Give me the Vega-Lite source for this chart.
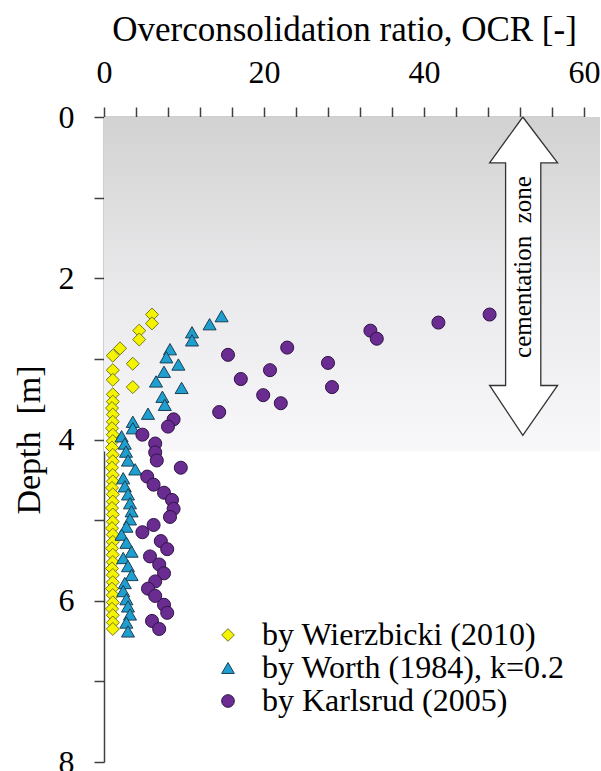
{
  "$schema": "https://vega.github.io/schema/vega-lite/v6.json",
  "width": 480,
  "height": 645,
  "autosize": {"type": "none"},
  "padding": {"left": 104, "top": 117, "right": 17, "bottom": 9},
  "background": "white",
  "config": {
    "view": {"stroke": null},
    "font": "Liberation Serif",
    "text": {"font": "Liberation Serif"}
  },
  "encoding": {
    "x": {
      "field": "ocr", "type": "quantitative",
      "scale": {"domain": [0, 60], "nice": false, "zero": false},
      "axis": {
        "orient": "top", "title": "Overconsolidation ratio, OCR [-]",
        "values": [0, 4, 8, 12, 16, 20, 24, 28, 32, 36, 40, 44, 48, 52, 56, 60],
        "labelExpr": "datum.value % 20 === 0 ? datum.label : ''",
        "grid": false, "domainColor": "#404040", "domainWidth": 1.5,
        "tickColor": "#404040", "tickWidth": 1.5, "tickSize": 10,
        "labelFont": "Liberation Serif", "labelFontSize": 32, "labelFontWeight": "normal", "labelColor": "#000",
        "labelPadding": 18, "labelFlush": false, "labelOverlap": false,
        "titleFont": "Liberation Serif", "titleFontSize": 35, "titleFontWeight": "normal",
        "titleColor": "#000", "titlePadding": 9
      }
    },
    "y": {
      "field": "depth", "type": "quantitative",
      "scale": {"domain": [0, 8], "reverse": true, "nice": false, "zero": false},
      "axis": {
        "title": "Depth\u00a0 [m]",
        "values": [0, 1, 2, 3, 4, 5, 6, 7, 8],
        "labelExpr": "datum.value % 2 === 0 ? datum.label : ''",
        "grid": false, "domainColor": "#404040", "domainWidth": 1.5,
        "tickColor": "#404040", "tickWidth": 1.5, "tickSize": 10,
        "labelFont": "Liberation Serif", "labelFontSize": 32, "labelFontWeight": "normal", "labelColor": "#000",
        "labelPadding": 20, "labelFlush": false, "labelOverlap": false,
        "titleFont": "Liberation Serif", "titleFontSize": 34, "titleFontWeight": "normal",
        "titleColor": "#000", "titlePadding": 12
      }
    }
  },
  "layer": [
    {
      "data": {"values": [{"ocr": 0, "ocr2": 62, "depth": 0, "depth2": 4.15}]},
      "mark": {
        "type": "rect",
        "fill": {"gradient": "linear", "x1": 0, "y1": 0, "x2": 0, "y2": 1,
          "stops": [{"offset": 0, "color": "#d2d2d2"}, {"offset": 0.5, "color": "#e9e9eb"}, {"offset": 1, "color": "#f8f8fa"}]}
      },
      "encoding": {"x2": {"field": "ocr2"}, "y2": {"field": "depth2"}}
    },
    {
      "data": {"values": [
        {"i": 1, "ocr": 52.35, "depth": 0.0},
        {"i": 2, "ocr": 56.7, "depth": 0.57},
        {"i": 3, "ocr": 54.6, "depth": 0.57},
        {"i": 4, "ocr": 54.6, "depth": 3.33},
        {"i": 5, "ocr": 56.7, "depth": 3.33},
        {"i": 6, "ocr": 52.35, "depth": 3.95},
        {"i": 7, "ocr": 48.2, "depth": 3.33},
        {"i": 8, "ocr": 50.2, "depth": 3.33},
        {"i": 9, "ocr": 50.2, "depth": 0.57},
        {"i": 10, "ocr": 48.2, "depth": 0.57},
        {"i": 11, "ocr": 52.35, "depth": 0.0}
      ]},
      "mark": {"type": "line", "fill": "white", "stroke": "#333333", "strokeWidth": 1.3, "strokeJoin": "miter"},
      "encoding": {"order": {"field": "i", "type": "quantitative"}}
    },
    {
      "data": {"values": [{"ocr": 52.4, "depth": 1.86, "label": "cementation\u00a0 zone"}]},
      "mark": {"type": "text", "angle": 270, "fontSize": 25, "font": "Liberation Serif", "fontWeight": "normal", "color": "#000", "align": "center", "baseline": "middle"},
      "encoding": {"text": {"field": "label"}}
    },
    {
      "data": {"values": [
        {"series": "by Wierzbicki (2010)", "ocr": 6.0, "depth": 2.45},
        {"series": "by Wierzbicki (2010)", "ocr": 6.0, "depth": 2.56},
        {"series": "by Wierzbicki (2010)", "ocr": 4.4, "depth": 2.65},
        {"series": "by Wierzbicki (2010)", "ocr": 4.4, "depth": 2.76},
        {"series": "by Wierzbicki (2010)", "ocr": 2.0, "depth": 2.87},
        {"series": "by Wierzbicki (2010)", "ocr": 1.1, "depth": 2.96},
        {"series": "by Wierzbicki (2010)", "ocr": 3.6, "depth": 3.06},
        {"series": "by Wierzbicki (2010)", "ocr": 1.1, "depth": 3.14},
        {"series": "by Wierzbicki (2010)", "ocr": 1.1, "depth": 3.26},
        {"series": "by Wierzbicki (2010)", "ocr": 3.6, "depth": 3.35},
        {"series": "by Wierzbicki (2010)", "ocr": 1.1, "depth": 3.44},
        {"series": "by Wierzbicki (2010)", "ocr": 1.1, "depth": 3.53},
        {"series": "by Wierzbicki (2010)", "ocr": 1.0, "depth": 3.61},
        {"series": "by Wierzbicki (2010)", "ocr": 1.1, "depth": 3.69},
        {"series": "by Wierzbicki (2010)", "ocr": 1.1, "depth": 3.78},
        {"series": "by Wierzbicki (2010)", "ocr": 1.0, "depth": 3.86},
        {"series": "by Wierzbicki (2010)", "ocr": 1.1, "depth": 3.94},
        {"series": "by Wierzbicki (2010)", "ocr": 1.1, "depth": 4.02},
        {"series": "by Wierzbicki (2010)", "ocr": 1.0, "depth": 4.10},
        {"series": "by Wierzbicki (2010)", "ocr": 1.1, "depth": 4.19},
        {"series": "by Wierzbicki (2010)", "ocr": 1.1, "depth": 4.27},
        {"series": "by Wierzbicki (2010)", "ocr": 1.0, "depth": 4.35},
        {"series": "by Wierzbicki (2010)", "ocr": 1.1, "depth": 4.44},
        {"series": "by Wierzbicki (2010)", "ocr": 1.1, "depth": 4.52},
        {"series": "by Wierzbicki (2010)", "ocr": 1.0, "depth": 4.60},
        {"series": "by Wierzbicki (2010)", "ocr": 1.1, "depth": 4.68},
        {"series": "by Wierzbicki (2010)", "ocr": 1.1, "depth": 4.77},
        {"series": "by Wierzbicki (2010)", "ocr": 1.0, "depth": 4.85},
        {"series": "by Wierzbicki (2010)", "ocr": 1.1, "depth": 4.93},
        {"series": "by Wierzbicki (2010)", "ocr": 1.1, "depth": 5.02},
        {"series": "by Wierzbicki (2010)", "ocr": 1.0, "depth": 5.10},
        {"series": "by Wierzbicki (2010)", "ocr": 1.1, "depth": 5.18},
        {"series": "by Wierzbicki (2010)", "ocr": 1.1, "depth": 5.27},
        {"series": "by Wierzbicki (2010)", "ocr": 1.0, "depth": 5.35},
        {"series": "by Wierzbicki (2010)", "ocr": 1.1, "depth": 5.43},
        {"series": "by Wierzbicki (2010)", "ocr": 1.1, "depth": 5.52},
        {"series": "by Wierzbicki (2010)", "ocr": 1.0, "depth": 5.60},
        {"series": "by Wierzbicki (2010)", "ocr": 1.1, "depth": 5.68},
        {"series": "by Wierzbicki (2010)", "ocr": 1.1, "depth": 5.77},
        {"series": "by Wierzbicki (2010)", "ocr": 1.0, "depth": 5.85},
        {"series": "by Wierzbicki (2010)", "ocr": 1.1, "depth": 5.93},
        {"series": "by Wierzbicki (2010)", "ocr": 1.1, "depth": 6.02},
        {"series": "by Wierzbicki (2010)", "ocr": 1.0, "depth": 6.10},
        {"series": "by Wierzbicki (2010)", "ocr": 1.1, "depth": 6.18},
        {"series": "by Wierzbicki (2010)", "ocr": 1.1, "depth": 6.27},
        {"series": "by Wierzbicki (2010)", "ocr": 1.1, "depth": 6.35},
        {"series": "by Worth (1984), k=0.2", "ocr": 14.7, "depth": 2.47},
        {"series": "by Worth (1984), k=0.2", "ocr": 13.2, "depth": 2.57},
        {"series": "by Worth (1984), k=0.2", "ocr": 11.0, "depth": 2.67},
        {"series": "by Worth (1984), k=0.2", "ocr": 11.0, "depth": 2.77},
        {"series": "by Worth (1984), k=0.2", "ocr": 8.25, "depth": 2.88},
        {"series": "by Worth (1984), k=0.2", "ocr": 7.8, "depth": 2.98},
        {"series": "by Worth (1984), k=0.2", "ocr": 9.3, "depth": 3.07},
        {"series": "by Worth (1984), k=0.2", "ocr": 7.5, "depth": 3.16},
        {"series": "by Worth (1984), k=0.2", "ocr": 6.5, "depth": 3.28},
        {"series": "by Worth (1984), k=0.2", "ocr": 9.7, "depth": 3.36},
        {"series": "by Worth (1984), k=0.2", "ocr": 7.3, "depth": 3.47},
        {"series": "by Worth (1984), k=0.2", "ocr": 7.6, "depth": 3.57},
        {"series": "by Worth (1984), k=0.2", "ocr": 5.5, "depth": 3.68},
        {"series": "by Worth (1984), k=0.2", "ocr": 3.6, "depth": 3.78},
        {"series": "by Worth (1984), k=0.2", "ocr": 3.6, "depth": 3.86},
        {"series": "by Worth (1984), k=0.2", "ocr": 2.2, "depth": 3.96},
        {"series": "by Worth (1984), k=0.2", "ocr": 2.6, "depth": 4.05},
        {"series": "by Worth (1984), k=0.2", "ocr": 2.75, "depth": 4.15},
        {"series": "by Worth (1984), k=0.2", "ocr": 3.0, "depth": 4.26},
        {"series": "by Worth (1984), k=0.2", "ocr": 3.9, "depth": 4.37},
        {"series": "by Worth (1984), k=0.2", "ocr": 2.4, "depth": 4.48},
        {"series": "by Worth (1984), k=0.2", "ocr": 2.6, "depth": 4.58},
        {"series": "by Worth (1984), k=0.2", "ocr": 3.0, "depth": 4.68},
        {"series": "by Worth (1984), k=0.2", "ocr": 3.25, "depth": 4.79},
        {"series": "by Worth (1984), k=0.2", "ocr": 3.45, "depth": 4.89},
        {"series": "by Worth (1984), k=0.2", "ocr": 3.25, "depth": 4.99},
        {"series": "by Worth (1984), k=0.2", "ocr": 2.8, "depth": 5.08},
        {"series": "by Worth (1984), k=0.2", "ocr": 2.2, "depth": 5.18},
        {"series": "by Worth (1984), k=0.2", "ocr": 2.8, "depth": 5.28},
        {"series": "by Worth (1984), k=0.2", "ocr": 3.45, "depth": 5.39},
        {"series": "by Worth (1984), k=0.2", "ocr": 2.4, "depth": 5.47},
        {"series": "by Worth (1984), k=0.2", "ocr": 3.0, "depth": 5.57},
        {"series": "by Worth (1984), k=0.2", "ocr": 3.45, "depth": 5.68},
        {"series": "by Worth (1984), k=0.2", "ocr": 2.6, "depth": 5.78},
        {"series": "by Worth (1984), k=0.2", "ocr": 2.4, "depth": 5.88},
        {"series": "by Worth (1984), k=0.2", "ocr": 2.8, "depth": 5.98},
        {"series": "by Worth (1984), k=0.2", "ocr": 3.0, "depth": 6.07},
        {"series": "by Worth (1984), k=0.2", "ocr": 3.25, "depth": 6.17},
        {"series": "by Worth (1984), k=0.2", "ocr": 2.8, "depth": 6.27},
        {"series": "by Worth (1984), k=0.2", "ocr": 3.0, "depth": 6.38},
        {"series": "by Karlsrud (2005)", "ocr": 48.2, "depth": 2.45},
        {"series": "by Karlsrud (2005)", "ocr": 41.8, "depth": 2.55},
        {"series": "by Karlsrud (2005)", "ocr": 33.3, "depth": 2.65},
        {"series": "by Karlsrud (2005)", "ocr": 34.1, "depth": 2.75},
        {"series": "by Karlsrud (2005)", "ocr": 22.9, "depth": 2.86},
        {"series": "by Karlsrud (2005)", "ocr": 15.5, "depth": 2.95},
        {"series": "by Karlsrud (2005)", "ocr": 28.0, "depth": 3.05},
        {"series": "by Karlsrud (2005)", "ocr": 20.75, "depth": 3.14},
        {"series": "by Karlsrud (2005)", "ocr": 17.1, "depth": 3.25},
        {"series": "by Karlsrud (2005)", "ocr": 28.5, "depth": 3.35},
        {"series": "by Karlsrud (2005)", "ocr": 19.9, "depth": 3.45},
        {"series": "by Karlsrud (2005)", "ocr": 22.1, "depth": 3.55},
        {"series": "by Karlsrud (2005)", "ocr": 14.4, "depth": 3.66},
        {"series": "by Karlsrud (2005)", "ocr": 8.7, "depth": 3.75},
        {"series": "by Karlsrud (2005)", "ocr": 8.0, "depth": 3.84},
        {"series": "by Karlsrud (2005)", "ocr": 4.8, "depth": 3.94},
        {"series": "by Karlsrud (2005)", "ocr": 6.4, "depth": 4.05},
        {"series": "by Karlsrud (2005)", "ocr": 6.4, "depth": 4.16},
        {"series": "by Karlsrud (2005)", "ocr": 6.6, "depth": 4.26},
        {"series": "by Karlsrud (2005)", "ocr": 9.6, "depth": 4.35},
        {"series": "by Karlsrud (2005)", "ocr": 5.4, "depth": 4.46},
        {"series": "by Karlsrud (2005)", "ocr": 6.2, "depth": 4.56},
        {"series": "by Karlsrud (2005)", "ocr": 7.5, "depth": 4.66},
        {"series": "by Karlsrud (2005)", "ocr": 8.5, "depth": 4.75},
        {"series": "by Karlsrud (2005)", "ocr": 8.7, "depth": 4.86},
        {"series": "by Karlsrud (2005)", "ocr": 8.25, "depth": 4.96},
        {"series": "by Karlsrud (2005)", "ocr": 6.2, "depth": 5.06},
        {"series": "by Karlsrud (2005)", "ocr": 4.8, "depth": 5.15},
        {"series": "by Karlsrud (2005)", "ocr": 7.1, "depth": 5.26},
        {"series": "by Karlsrud (2005)", "ocr": 7.9, "depth": 5.36},
        {"series": "by Karlsrud (2005)", "ocr": 5.75, "depth": 5.45},
        {"series": "by Karlsrud (2005)", "ocr": 6.9, "depth": 5.55},
        {"series": "by Karlsrud (2005)", "ocr": 7.5, "depth": 5.66},
        {"series": "by Karlsrud (2005)", "ocr": 6.4, "depth": 5.76},
        {"series": "by Karlsrud (2005)", "ocr": 5.5, "depth": 5.85},
        {"series": "by Karlsrud (2005)", "ocr": 6.4, "depth": 5.94},
        {"series": "by Karlsrud (2005)", "ocr": 7.5, "depth": 6.05},
        {"series": "by Karlsrud (2005)", "ocr": 7.9, "depth": 6.15},
        {"series": "by Karlsrud (2005)", "ocr": 6.0, "depth": 6.25},
        {"series": "by Karlsrud (2005)", "ocr": 6.9, "depth": 6.35}
      ]},
      "mark": {"type": "point", "filled": true, "size": 170, "strokeWidth": 1, "opacity": 1},
      "encoding": {
        "color": {
          "field": "series", "type": "nominal",
          "scale": {"domain": ["by Wierzbicki (2010)", "by Worth (1984), k=0.2", "by Karlsrud (2005)"], "range": ["#f4f400", "#1f9fcf", "#6b2c92"]},
          "legend": {
            "orient": "none", "legendX": 108, "legendY": 502, "title": null, "padding": 0,
            "labelFont": "Liberation Serif", "labelFontSize": 32, "labelFontWeight": "normal", "labelColor": "#000", "labelLimit": 400,
            "symbolSize": 160, "symbolStrokeWidth": 1, "rowPadding": 1, "labelOffset": 18
          }
        },
        "shape": {
          "field": "series", "type": "nominal",
          "scale": {"domain": ["by Wierzbicki (2010)", "by Worth (1984), k=0.2", "by Karlsrud (2005)"], "range": ["diamond", "triangle-up", "circle"]}
        },
        "stroke": {
          "field": "series", "type": "nominal",
          "scale": {"domain": ["by Wierzbicki (2010)", "by Worth (1984), k=0.2", "by Karlsrud (2005)"], "range": ["#77771c", "#1b3f52", "#2f1446"]}
        }
      }
    }
  ]
}
